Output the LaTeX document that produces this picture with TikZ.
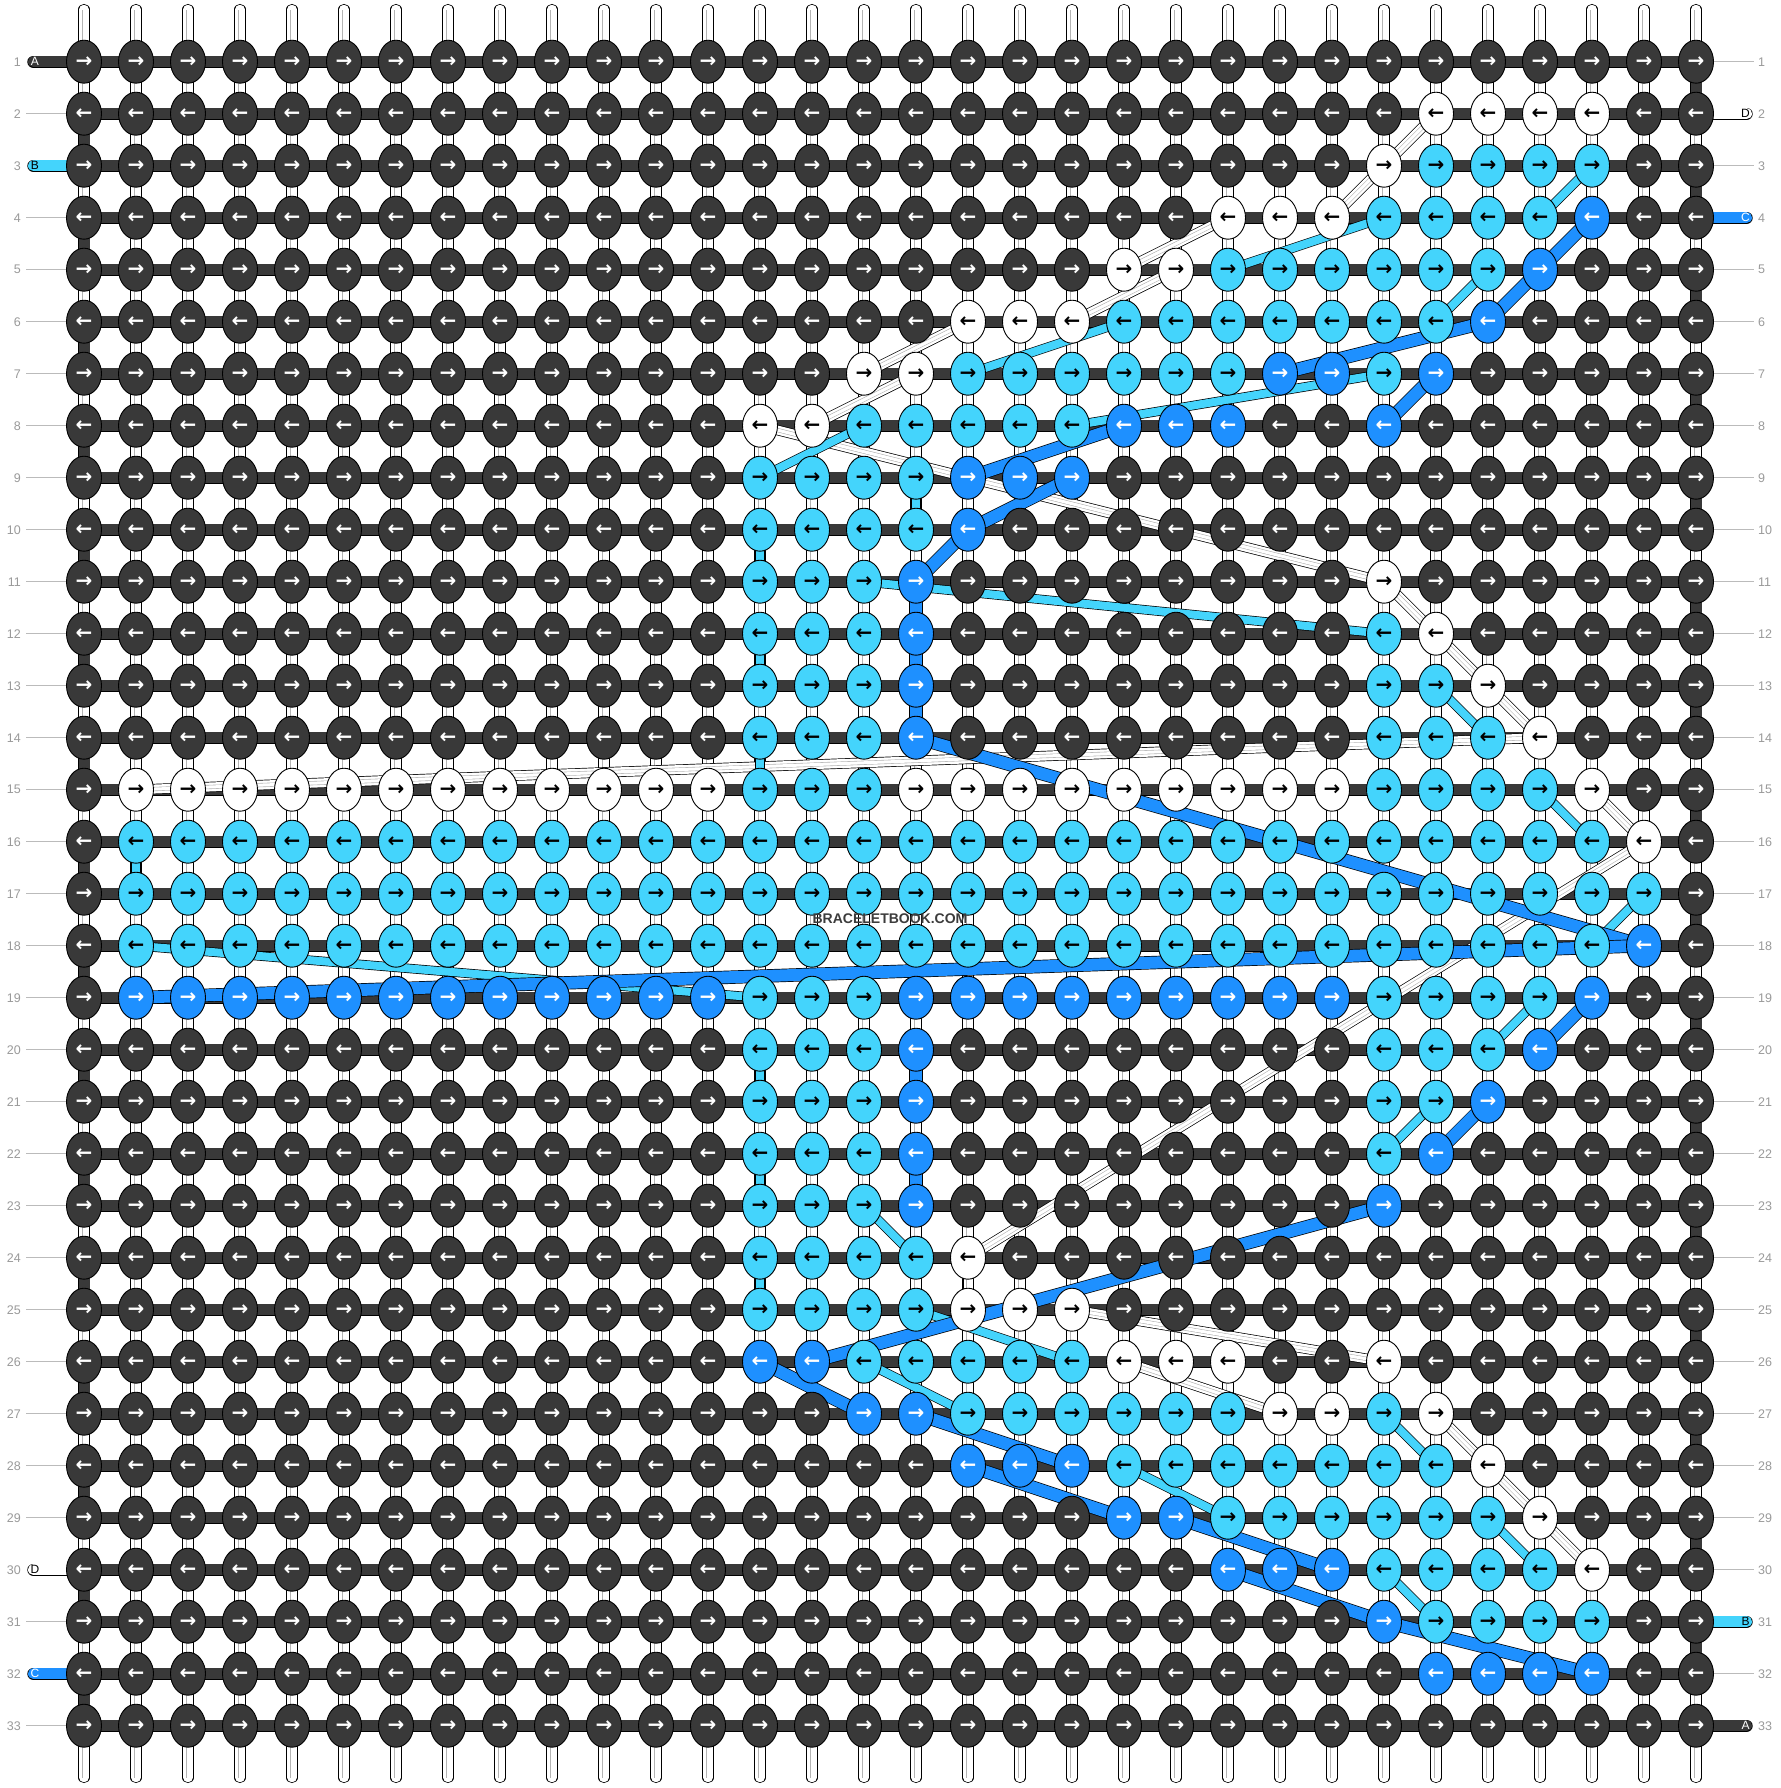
\documentclass[tikz,border=0pt]{standalone}
\usepackage{fontspec}
\setmainfont{Liberation Sans}
\newfontfamily\arrowfont{DejaVu Sans}
\usetikzlibrary{shapes.geometric}
\pgfdeclarelayer{warp}
\pgfdeclarelayer{bars}
\pgfdeclarelayer{conn}
\pgfsetlayers{warp,bars,conn,main}
\definecolor{dk}{HTML}{393939}
\definecolor{cy}{HTML}{44D4FC}
\definecolor{bl}{HTML}{1E90FF}
\definecolor{wh}{HTML}{FFFFFF}
\definecolor{lab}{HTML}{9A9A9A}
\definecolor{labgray}{HTML}{BBBBBB}
\definecolor{stripe}{HTML}{B4B4B4}
\definecolor{wmark}{HTML}{3C3C3C}
\tikzset{
  knot/.style={ellipse, draw=black, line width=0.9pt, minimum width=35pt, minimum height=43pt, inner sep=0pt,
    font=\arrowfont\bfseries\fontsize{20pt}{20pt}\selectfont},
  kdk/.style={knot, fill=dk, text=white},
  kcy/.style={knot, fill=cy, text=black},
  kbl/.style={knot, fill=bl, text=white},
  kwh/.style={knot, fill=white, text=black},
  hbar/.style={draw=black, line width=0.7pt, double=dk, double distance=11pt},
  conncy/.style={draw=black, line width=0.7pt, double=cy, double distance=8pt},
  connbl/.style={draw=black, line width=0.7pt, double=bl, double distance=12pt},
  connwh/.style={draw=black, line width=0.7pt, double=white, double distance=9pt},
  stripes/.style={draw=stripe, line width=0.6pt, double=white, double distance=3pt},
  warpbar/.style={draw=black, line width=0.8pt, double=white, double distance=9.5pt, line cap=round},
  warpstripe/.style={draw=stripe, line width=0.6pt, double=white, double distance=3pt},
  stub/.style={draw=black, line width=0.7pt, double distance=11pt, line cap=round},
  rowlab/.style={text=lab, font=\fontsize{12.5pt}{12.5pt}\selectfont, inner sep=0pt},
  stublab/.style={font=\fontsize{12pt}{12pt}\selectfont, inner sep=0pt},
  labline/.style={draw=labgray, line width=1pt},
}
\begin{document}
\begin{tikzpicture}[x=1pt,y=-1pt]
\useasboundingbox (0,0) rectangle (1780,1788);
% knots
\foreach \r/\segs in {
 1/{1/32/dk},
 2/{1/26/dk,27/30/wh,31/32/dk},
 3/{1/25/dk,26/26/wh,27/30/cy,31/32/dk},
 4/{1/22/dk,23/25/wh,26/29/cy,30/30/bl,31/32/dk},
 5/{1/20/dk,21/22/wh,23/28/cy,29/29/bl,30/32/dk},
 6/{1/17/dk,18/20/wh,21/27/cy,28/28/bl,29/32/dk},
 7/{1/15/dk,16/17/wh,18/23/cy,24/25/bl,26/26/cy,27/27/bl,28/32/dk},
 8/{1/13/dk,14/15/wh,16/20/cy,21/23/bl,24/25/dk,26/26/bl,27/32/dk},
 9/{1/13/dk,14/17/cy,18/20/bl,21/32/dk},
 10/{1/13/dk,14/17/cy,18/18/bl,19/32/dk},
 11/{1/13/dk,14/16/cy,17/17/bl,18/25/dk,26/26/wh,27/32/dk},
 12/{1/13/dk,14/16/cy,17/17/bl,18/25/dk,26/26/cy,27/27/wh,28/32/dk},
 13/{1/13/dk,14/16/cy,17/17/bl,18/25/dk,26/27/cy,28/28/wh,29/32/dk},
 14/{1/13/dk,14/16/cy,17/17/bl,18/25/dk,26/28/cy,29/29/wh,30/32/dk},
 15/{1/1/dk,2/13/wh,14/16/cy,17/25/wh,26/29/cy,30/30/wh,31/32/dk},
 16/{1/1/dk,2/30/cy,31/31/wh,32/32/dk},
 17/{1/1/dk,2/31/cy,32/32/dk},
 18/{1/1/dk,2/30/cy,31/31/bl,32/32/dk},
 19/{1/1/dk,2/13/bl,14/16/cy,17/25/bl,26/29/cy,30/30/bl,31/32/dk},
 20/{1/13/dk,14/16/cy,17/17/bl,18/25/dk,26/28/cy,29/29/bl,30/32/dk},
 21/{1/13/dk,14/16/cy,17/17/bl,18/25/dk,26/27/cy,28/28/bl,29/32/dk},
 22/{1/13/dk,14/16/cy,17/17/bl,18/25/dk,26/26/cy,27/27/bl,28/32/dk},
 23/{1/13/dk,14/16/cy,17/17/bl,18/25/dk,26/26/bl,27/32/dk},
 24/{1/13/dk,14/17/cy,18/18/wh,19/32/dk},
 25/{1/13/dk,14/17/cy,18/20/wh,21/32/dk},
 26/{1/13/dk,14/15/bl,16/20/cy,21/23/wh,24/25/dk,26/26/wh,27/32/dk},
 27/{1/15/dk,16/17/bl,18/23/cy,24/25/wh,26/26/cy,27/27/wh,28/32/dk},
 28/{1/17/dk,18/20/bl,21/27/cy,28/28/wh,29/32/dk},
 29/{1/20/dk,21/22/bl,23/28/cy,29/29/wh,30/32/dk},
 30/{1/22/dk,23/25/bl,26/29/cy,30/30/wh,31/32/dk},
 31/{1/25/dk,26/26/bl,27/30/cy,31/32/dk},
 32/{1/26/dk,27/30/bl,31/32/dk},
 33/{1/32/dk}}{
  \pgfmathtruncatemacro\odd{mod(\r,2)}
  \foreach \a/\b/\cl in \segs {
    \foreach \c in {\a,...,\b} {
      \node[k\cl] (k-\r-\c) at ({84+52*(\c-1)},{61.7+52*(\r-1)}) {\ifnum\odd=1 →\else ←\fi};
    }
  }
}
% watermark
\node[font=\bfseries\fontsize{14pt}{14pt}\selectfont, text=wmark, inner sep=0pt] (wm) at (890,919) {BRACELETBOOK.COM};
% row labels
\foreach \r in {1,...,33} {
  \node[rowlab, anchor=east] (ll-\r) at (21,{61.7+52*(\r-1)}) {\r};
  \node[rowlab, anchor=west] (rl-\r) at (1758,{61.7+52*(\r-1)}) {\r};
}
\begin{pgfonlayer}{warp}
  \fill[white] (0,0) rectangle (1780,1788);
  \foreach \c in {1,...,32} {
    \coordinate (wt-\c) at ({84+52*(\c-1)},9.5);
    \coordinate (wb-\c) at ({84+52*(\c-1)},1777.5);
    \draw[warpbar] (wt-\c) -- (wb-\c);
    \draw[warpstripe] (wt-\c) -- (wb-\c);
  }
  \foreach \r in {2,4,5,6,7,8,9,10,11,12,13,14,15,16,17,18,19,20,21,22,23,24,25,26,27,28,29,31,33} {
    \coordinate (gl-\r) at (26,{61.7+52*(\r-1)});
    \draw[labline] (gl-\r) -- (k-\r-1.west);
  }
  \foreach \r in {1,3,5,6,7,8,9,10,11,12,13,14,15,16,17,18,19,20,21,22,23,24,25,26,27,28,29,30,32} {
    \coordinate (gr-\r) at (1754,{61.7+52*(\r-1)});
    \draw[labline] (k-\r-32.east) -- (gr-\r);
  }
\end{pgfonlayer}
\begin{pgfonlayer}{bars}
  \foreach \r in {1,...,33} {
    \draw[hbar] (k-\r-1.center) -- (k-\r-32.center);
  }
  \foreach \r in {2,4,...,32} {
    \pgfmathtruncatemacro\rn{\r+1}
    \draw[hbar] (k-\r-1.center) -- (k-\rn-1.center);
  }
  \foreach \r in {1,3,...,31} {
    \pgfmathtruncatemacro\rn{\r+1}
    \draw[hbar] (k-\r-32.center) -- (k-\rn-32.center);
  }
  % strand ends, left
  \foreach \r/\cl/\lt/\tc in {1/dk/A/white,3/cy/B/black,30/wh/D/black,32/bl/C/white} {
    \coordinate (sl-\r) at (33.5,{61.7+52*(\r-1)});
    \draw[stub, double=\cl] (sl-\r) -- (k-\r-1.center);
    \node[stublab, text=\tc] (slt-\r) at (35,{61.7+52*(\r-1)}) {\lt};
  }
  % strand ends, right
  \foreach \r/\cl/\lt/\tc in {2/wh/D/black,4/bl/C/white,31/cy/B/black,33/dk/A/white} {
    \coordinate (sr-\r) at (1746.5,{61.7+52*(\r-1)});
    \draw[stub, double=\cl] (k-\r-32.center) -- (sr-\r);
    \node[stublab, text=\tc] (srt-\r) at (1745.5,{61.7+52*(\r-1)}) {\lt};
  }
\end{pgfonlayer}
\begin{pgfonlayer}{conn}
  \foreach \ra/\ca/\rb/\cb in {2/27/3/26,3/26/4/25,4/23/5/21,5/22/6/20,6/18/7/16,7/17/8/15,8/14/11/26,
     11/26/12/27,12/27/13/28,13/28/14/29,14/29/15/2,15/30/16/31,16/31/24/18,24/18/25/18,25/20/26/26,
     26/21/27/24,27/27/28/28,28/28/29/29,29/29/30/30} {
    \draw[connwh] (k-\ra-\ca.center) -- (k-\rb-\cb.center);
    \draw[stripes] (k-\ra-\ca.center) -- (k-\rb-\cb.center);
  }
  \foreach \ra/\ca/\rb/\cb in {3/30/4/29,4/26/5/23,5/28/6/27,6/21/7/18,7/26/8/20,8/16/9/14,9/17/10/17,
     10/14/11/14,11/16/12/26,12/14/13/14,13/27/14/28,14/14/15/14,15/29/16/30,16/2/17/2,17/31/18/30,
     18/2/19/14,19/29/20/28,20/14/21/14,21/27/22/26,22/14/23/14,23/16/24/17,24/14/25/14,25/17/26/20,
     26/16/27/18,27/26/28/27,28/21/29/23,29/28/30/29,30/26/31/27} {
    \draw[conncy] (k-\ra-\ca.center) -- (k-\rb-\cb.center);
  }
  \foreach \ra/\ca/\rb/\cb in {4/30/5/29,5/29/6/28,6/28/7/24,7/27/8/26,8/21/9/18,9/20/10/18,10/18/11/17,
     11/17/12/17,12/17/13/17,13/17/14/17,14/17/18/31,18/31/19/2,19/30/20/29,20/17/21/17,21/28/22/27,
     22/17/23/17,23/26/26/15,26/14/27/16,27/17/28/20,28/18/29/21,29/22/30/25,30/23/31/26,31/26/32/30} {
    \draw[connbl] (k-\ra-\ca.center) -- (k-\rb-\cb.center);
  }
\end{pgfonlayer}
\end{tikzpicture}
\end{document}
